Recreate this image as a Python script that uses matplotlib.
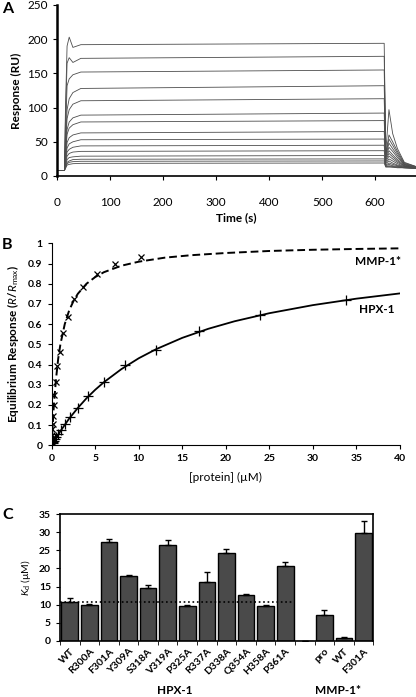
import matplotlib
matplotlib.use("Agg")
import matplotlib.pyplot as plt
import numpy as np

plt.rcParams['font.family'] = ['Lato', 'DejaVu Sans']
plt.rcParams['mathtext.fontset'] = 'custom'
plt.rcParams['mathtext.rm'] = 'Lato'
plt.rcParams['mathtext.it'] = 'Lato:italic'
plt.rcParams['mathtext.bf'] = 'Lato:bold'

# ---- panel A: sensorgrams (key points) ----
t_knots = [0, 14, 16, 19, 23, 30, 45, 617, 620, 626, 633, 642, 655, 680]
traces = [
    [8, 8, 100, 190, 203, 188, 192, 194, 35, 97, 62, 40, 20, 13],
    [8, 8, 85, 165, 173, 166, 172, 175, 33, 60, 50, 36, 19, 13],
    [8, 8, 60, 132, 142, 148, 152, 155, 31, 54, 45, 33, 18, 13],
    [8, 8, 45, 97, 113, 122, 128, 132, 29, 48, 40, 30, 17, 12],
    [8, 8, 40, 84, 97, 105, 110, 113, 27, 42, 36, 27, 17, 12],
    [8, 8, 33, 68, 79, 85, 89, 92, 25, 37, 31, 24, 16, 12],
    [8, 8, 30, 61, 70, 75, 79, 81, 23, 33, 28, 22, 15, 12],
    [8, 8, 25, 49, 56, 60, 63, 65, 21, 29, 25, 20, 15, 12],
    [8, 8, 22, 41, 47, 50, 53, 54, 19, 25, 22, 18, 14, 12],
    [8, 8, 19, 35, 39, 42, 44, 45, 18, 22, 19, 16, 14, 11],
    [8, 8, 17, 29, 33, 35, 36, 37, 16, 19, 17, 15, 13, 11],
    [8, 8, 15, 24, 27, 28, 29, 30, 15, 17, 15, 14, 13, 11],
    [8, 8, 13, 20, 22, 24, 24.5, 25, 14, 15, 14, 13, 12, 11],
    [8, 8, 12, 18, 20, 21, 21.5, 22, 14, 14, 13, 13, 12, 11],
    [8, 8, 11, 16, 17, 18, 18.5, 19, 13, 13, 13, 12, 12, 11],
]

# ---- panel B: equilibrium binding ----
mmp_conc = [0.03, 0.05, 0.08, 0.11, 0.16, 0.23, 0.32, 0.46, 0.64, 0.91, 1.29, 1.82, 2.58, 3.65, 5.15, 7.3, 10.3]
mmp_resp = [0.03, 0.05, 0.08, 0.105, 0.145, 0.2, 0.25, 0.315, 0.395, 0.46, 0.557, 0.634, 0.724, 0.782, 0.848, 0.897, 0.934]
hpx_conc = [0.13, 0.19, 0.26, 0.37, 0.53, 0.75, 1.06, 1.49, 2.11, 2.99, 4.22, 5.98, 8.45, 11.95, 16.9, 23.9, 33.8]
hpx_resp = [0.01, 0.015, 0.02, 0.03, 0.04, 0.055, 0.075, 0.105, 0.14, 0.185, 0.245, 0.315, 0.40, 0.473, 0.565, 0.645, 0.72]

mmp_fit_x = [0, 0.1, 0.25, 0.5, 0.75, 1, 1.5, 2, 2.5, 3, 4, 5, 6, 8, 10, 13, 16, 20, 25, 30, 35, 40]
mmp_fit_y = [0, 0.09, 0.2, 0.33, 0.43, 0.5, 0.6, 0.667, 0.714, 0.75, 0.8, 0.833, 0.857, 0.889, 0.909, 0.929, 0.941, 0.952, 0.962, 0.968, 0.972, 0.975]
hpx_fit_x = [0, 1, 2, 3, 4, 5, 6, 8, 10, 12, 15, 18, 21, 25, 30, 35, 40]
hpx_fit_y = [0, 0.07, 0.132, 0.185, 0.233, 0.275, 0.3125, 0.377, 0.431, 0.476, 0.532, 0.577, 0.614, 0.654, 0.694, 0.726, 0.752]

# ---- panel C: Kd values ----
mutants = ["WT", "R300A", "F301A", "Y309A", "S318A", "V319A", "P325A", "R337A",
           "D338A", "Q354A", "H358A", "P361A", "", "pro", "WT", "F301A"]
kd = [10.8, 9.95, 27.4, 18.0, 14.5, 26.4, 9.7, 16.3, 24.3, 12.8, 9.75, 20.6, 0, 7.3, 0.8, 29.8]
kd_err = [1.0, 0.35, 0.8, 0.2, 0.9, 1.5, 0.1, 2.6, 1.0, 0.2, 0.3, 1.1, 0, 1.2, 0.2, 3.2]
kd_wt_line = 10.8

fig = plt.figure(figsize=(4.16, 6.97), dpi=100)
W, H = 416.0, 697.0

# panel A
axA = fig.add_axes([57 / W, 1 - 176 / H, (416 - 57) / W, 171 / H])
for tr in traces:
    axA.plot(t_knots, tr, color='#4d4d4d', lw=0.6)
axA.set_xlim(0, 677)
axA.set_ylim(0, 250)
axA.set_xticks(range(0, 700, 100))
axA.set_yticks(range(0, 300, 50))
for s in ['top', 'right']:
    axA.spines[s].set_visible(False)
axA.spines['left'].set_linewidth(1.8)
axA.spines['bottom'].set_linewidth(1.2)
axA.tick_params(axis='x', length=3, pad=12, labelsize=8.5)
axA.tick_params(axis='y', length=3, labelsize=8.5)
axA.set_xlabel('Time (s)', fontsize=8.5, fontweight='bold', labelpad=3)
axA.set_ylabel('Response (RU)', fontsize=8.5, fontweight='bold', labelpad=4)

# panel B
axB = fig.add_axes([51.7 / W, 1 - 445.3 / H, (400 - 51.7) / W, 202 / H])
axB.plot(mmp_fit_x, mmp_fit_y, color='black', lw=1.4, ls=(0, (4, 2)))
axB.plot(hpx_fit_x, hpx_fit_y, color='black', lw=1.3)
axB.plot(mmp_conc, mmp_resp, ls='none', marker='x', ms=5, mew=0.9, color='black')
axB.plot(hpx_conc, hpx_resp, ls='none', marker='+', ms=7, mew=0.9, color='black')
axB.set_xlim(0, 40)
axB.set_ylim(0, 1)
axB.set_xticks(range(0, 45, 5))
axB.set_yticks(np.arange(0, 1.01, 0.1))
axB.set_yticklabels(['0', '0.1', '0.2', '0.3', '0.4', '0.5', '0.6', '0.7', '0.8', '0.9', '1'])
for s in ['top', 'right']:
    axB.spines[s].set_visible(False)
axB.tick_params(length=3, labelsize=7.5)
for lab in axB.get_xticklabels() + axB.get_yticklabels():
    lab.set_fontweight('bold')
axB.text(40.1, 0.909, 'MMP-1*', ha='right', va='center', fontsize=8.5, fontweight='bold')
axB.text(39.4, 0.673, 'HPX-1', ha='right', va='center', fontsize=8.5, fontweight='bold')
axB.set_xlabel('[protein] (µM)', fontsize=8.5, labelpad=6)
axB.set_ylabel(r'Equilibrium Response ($\mathit{R}$/$\mathit{R}_{\mathrm{max}}$)',
               fontsize=8.5, fontweight='bold', labelpad=5)

# panel C
axC = fig.add_axes([60 / W, 1 - 641 / H, (373.3 - 60) / W, 127 / H])
xpos = np.arange(len(mutants))
axC.bar(xpos, kd, width=0.85, color='#4a4a4a', edgecolor='black', lw=1.0,
        yerr=[np.zeros(len(kd)), kd_err], capsize=2,
        error_kw=dict(ecolor='black', elinewidth=1.0, capthick=1.0))
axC.plot([-0.5, 11.5], [kd_wt_line, kd_wt_line], ls=':', color='black', lw=1.2)
axC.set_xlim(-0.5, len(mutants) - 0.5)
axC.set_ylim(0, 35)
axC.set_yticks(range(0, 40, 5))
axC.set_xticks(xpos)
axC.set_xticklabels(mutants, rotation=45, ha='right', rotation_mode='anchor', fontsize=7.5, fontweight='bold')
axC.set_xticks(np.arange(-0.5, len(mutants)), minor=True)
axC.tick_params(axis='x', which='major', length=0, pad=4)
axC.tick_params(axis='x', which='minor', length=3)
axC.tick_params(axis='y', length=3, labelsize=7.5)
for lab in axC.get_yticklabels():
    lab.set_fontweight('bold')
for s in axC.spines.values():
    s.set_linewidth(1.2)
axC.set_ylabel(r'$\mathit{K}_{\mathrm{d}}$ (µM)', fontsize=7.5, labelpad=4)

fig.text(175 / W, 1 - 690 / H, 'HPX-1', ha='center', va='center', fontsize=8.5, fontweight='bold')
fig.text(338 / W, 1 - 690 / H, 'MMP-1*', ha='center', va='center', fontsize=8.5, fontweight='bold')

fig.text(2 / W, 1 - 9 / H, 'A', fontsize=11.5, fontweight='bold', va='center')
fig.text(2 / W, 1 - 245 / H, 'B', fontsize=11.5, fontweight='bold', va='center')
fig.text(2 / W, 1 - 515 / H, 'C', fontsize=11.5, fontweight='bold', va='center')

fig.savefig('out.png', dpi=100)
